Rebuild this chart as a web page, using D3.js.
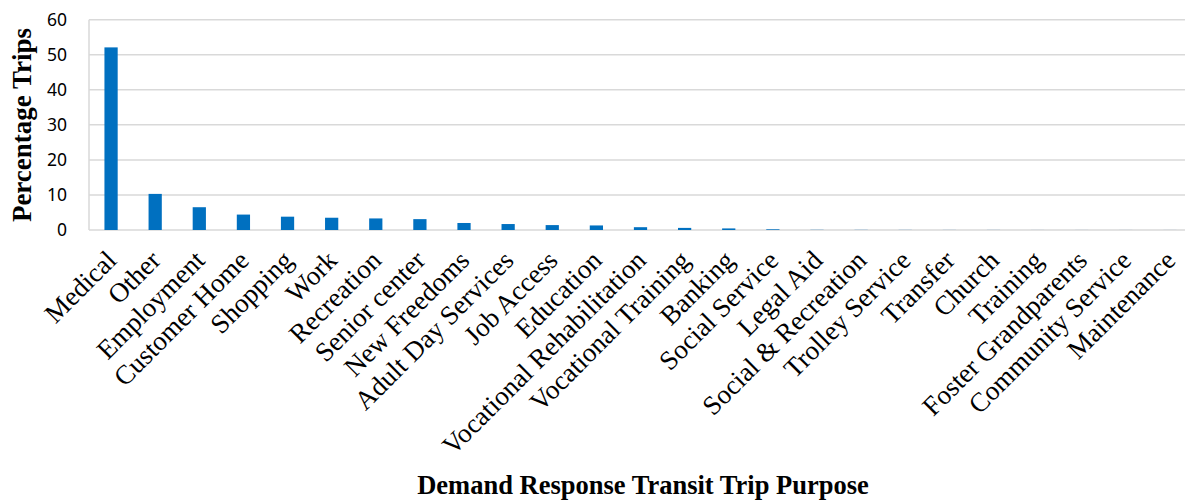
<!DOCTYPE html>
<html><head><meta charset="utf-8">
<script src="https://cdn.jsdelivr.net/npm/d3@7"></script>
<style>body{margin:0;background:#fff;overflow:hidden}</style>
</head><body><svg id="c" width="1185" height="501"></svg>
<script>
const categories = ["Medical","Other","Employment","Customer Home","Shopping","Work","Recreation","Senior center","New Freedoms","Adult Day Services","Job Access","Education","Vocational Rehabilitation","Vocational Training","Banking","Social Service","Legal Aid","Social & Recreation","Trolley Service","Transfer","Church","Training","Foster Grandparents","Community Service","Maintenance"];
const values = [52.1,10.3,6.5,4.4,3.8,3.5,3.3,3.1,2.0,1.7,1.4,1.3,0.8,0.6,0.45,0.2,0.05,0.04,0.03,0.02,0.02,0.01,0.01,0.01,0.01];
const yTicks = [0,10,20,30,40,50,60];

const svg = d3.select("#c");
const pL = 89, pR = 1192, pT = 19.7, pB = 230;
const x = d3.scaleBand().domain(categories).range([pL, pR]).paddingInner(0.7).paddingOuter(0.35);
const y = d3.scaleLinear().domain([0,60]).range([pB, pT]);

// gridlines
svg.append("g").selectAll("line").data(yTicks).join("line")
  .attr("x1", pL).attr("x2", pR)
  .attr("y1", d => y(d)).attr("y2", d => y(d))
  .attr("stroke", "#d9d9d9").attr("stroke-width", 1.5);
svg.append("line").attr("x1", pL).attr("x2", pL).attr("y1", y(60)).attr("y2", y(0))
  .attr("stroke", "#d9d9d9").attr("stroke-width", 1.5);

// bars
svg.append("g").selectAll("rect").data(values).join("rect")
  .attr("x", (d,i) => x(categories[i]))
  .attr("width", x.bandwidth())
  .attr("y", d => y(d))
  .attr("height", d => y(0) - y(d))
  .attr("fill", "#0070C0");

// y axis
const yAxis = svg.append("g").attr("transform", `translate(${pL},0)`)
  .call(d3.axisLeft(y).tickValues(yTicks).tickSize(0).tickPadding(22));
yAxis.select(".domain").remove();
yAxis.selectAll("text").attr("font-family", "'Noto Sans', sans-serif").attr("font-size", 17.5).attr("fill", "#000");

// x axis
const xAxis = svg.append("g").attr("transform", `translate(0,${pB})`)
  .call(d3.axisBottom(x).tickSize(0).tickPadding(0));
xAxis.select(".domain").remove();
xAxis.selectAll("text")
  .attr("font-family", "'Liberation Serif', 'Times New Roman', serif")
  .attr("font-size", 27).attr("fill", "#000")
  .attr("text-anchor", "end")
  .attr("dy", "0")
  .attr("transform", "translate(7,32) rotate(-45)");

// titles
svg.append("text").attr("transform", `translate(31,125) rotate(-90)`)
  .attr("text-anchor", "middle")
  .attr("font-family", "'Liberation Serif', 'Times New Roman', serif")
  .attr("font-weight", "bold").attr("font-size", 27)
  .text("Percentage Trips");
svg.append("text").attr("x", 643).attr("y", 494)
  .attr("text-anchor", "middle")
  .attr("font-family", "'Liberation Serif', 'Times New Roman', serif")
  .attr("font-weight", "bold").attr("font-size", 26.5)
  .text("Demand Response Transit Trip Purpose");
</script></body></html>
